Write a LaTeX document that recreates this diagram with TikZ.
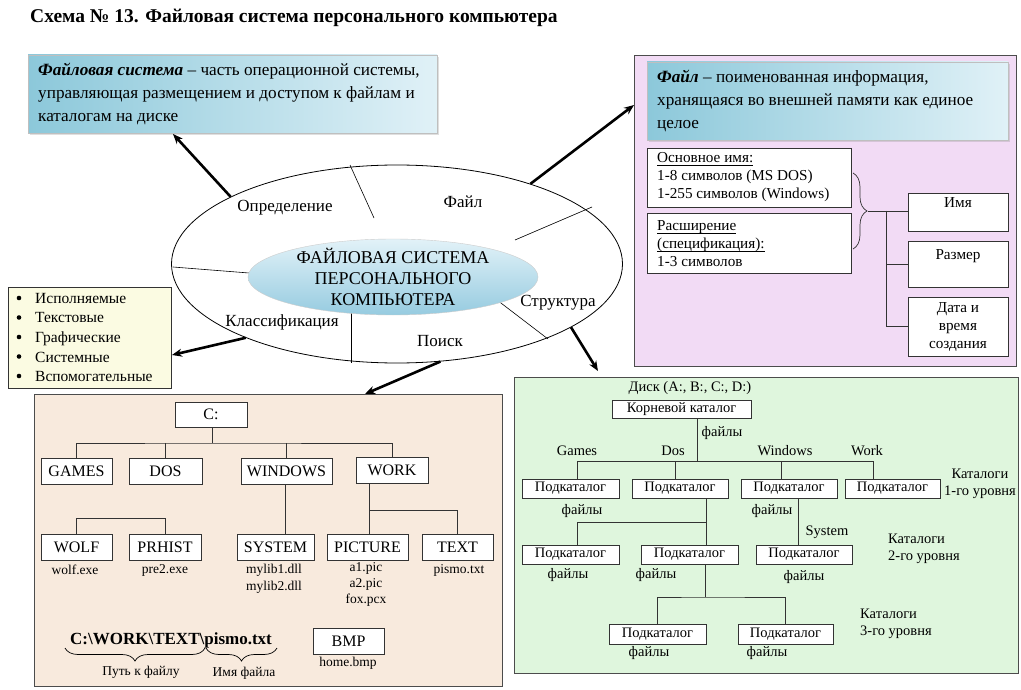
\documentclass[tikz,border=0pt]{standalone}
\usepackage{fontspec}
\setmainfont{Liberation Serif}
\usetikzlibrary{shapes.geometric,arrows.meta,decorations.pathreplacing,shadows}
\definecolor{pinkbg}{RGB}{242,219,245}
\definecolor{peachbg}{RGB}{248,234,221}
\definecolor{greenbg}{RGB}{223,246,221}
\definecolor{yellowbg}{RGB}{251,251,226}
\definecolor{bluedark}{RGB}{140,200,218}
\definecolor{bluelight}{RGB}{224,241,247}
\definecolor{coredark}{RGB}{150,203,224}
\definecolor{corelight}{RGB}{226,242,248}
\newcommand\fTitle{\fontsize{19.5}{22}\selectfont\bfseries}
\newcommand\fDef{\fontsize{17.2}{23}\selectfont}
\newcommand\fMid{\fontsize{15.2}{18}\selectfont}
\newcommand\fRing{\fontsize{17}{20}\selectfont}
\newcommand\fCore{\fontsize{18}{21}\selectfont}
\newcommand\fList{\fontsize{15.5}{19.6}\selectfont}
\newcommand\fTree{\fontsize{16}{19}\selectfont}
\newcommand\fFile{\fontsize{13.5}{16.5}\selectfont}
\newcommand\fGreen{\fontsize{14.5}{17.5}\selectfont}
\newcommand\myul[1]{\begingroup\setbox0\hbox{#1}\rlap{\rule[-2.6pt]{\wd0}{0.6pt}}\box0\endgroup}
\begin{document}
\begin{tikzpicture}[x=1pt,y=-1pt,
  defbox/.style={draw=gray!50, left color=bluedark, right color=bluelight,
    drop shadow={opacity=0.25,shadow xshift=2pt,shadow yshift=-2pt}, inner sep=0pt},
  deftext/.style={anchor=west, align=left, font=\fDef, inner sep=0pt},
  wbox/.style={draw=black!80, fill=white, line width=0.8pt, inner ysep=0pt},
  ring/.style={font=\fRing, inner sep=0pt},
  bigarrow/.style={line width=2.6pt, -{Stealth[length=10pt,width=8pt]}},
  thinline/.style={line width=0.6pt},
  conn/.style={line width=0.8pt, draw=black!80},
  tbox/.style={draw=black!80, fill=white, line width=0.8pt, font=\fTree, inner sep=0pt, minimum height=26pt},
  gbox/.style={draw=black!80, fill=white, line width=0.8pt, font=\fGreen, inner sep=0pt, minimum height=19pt, minimum width=97pt},
  ftext/.style={font=\fFile, inner sep=0pt, align=center},
  gtext/.style={font=\fGreen, inner sep=0pt, align=center},
  mybrace/.style={decorate, decoration={brace, amplitude=#1}, line width=0.7pt}
]
\useasboundingbox (0,0) rectangle (1021,690);
\fill[white] (0,0) rectangle (1021,690);

% title
\node[anchor=west, font=\fTitle, inner sep=0pt] (title) at (30,18) {Схема № 13. Файловая система персонального компьютера};

% background panels
\node[draw=black!70, fill=pinkbg, line width=0.8pt, minimum width=382pt, minimum height=311pt] (pink) at (825,210.5) {};
\node[draw=black!70, fill=peachbg, line width=0.8pt, minimum width=468pt, minimum height=292pt] (peach) at (268,540) {};
\node[draw=black!70, fill=greenbg, line width=0.8pt, minimum width=504pt, minimum height=296pt] (green) at (766,525) {};

% definition boxes
\node[defbox, minimum width=409pt, minimum height=78pt] (def1) at (232.5,94) {};
\node[deftext] (def1text) at (38,94)
 {\textbf{\textit{Файловая система}} – часть операционной системы,\\ управляющая размещением и доступом к файлам и\\ каталогам на диске};
\node[defbox, minimum width=361pt, minimum height=78pt] (def2) at (827.5,101) {};
\node[deftext] (def2text) at (657,101)
 {\textbf{\textit{Файл}} – поименованная информация,\\ хранящаяся во внешней памяти как единое\\ целое};

% file name boxes
\node[wbox, minimum width=204pt, minimum height=59pt] (osn) at (749,177.5) {};
\node[anchor=west, align=left, font=\fMid, inner sep=0pt] (osntext) at (657,177.5)
 {\myul{Основное имя:}\\1-8 символов (MS DOS)\\1-255 символов (Windows)};
\node[wbox, minimum width=204pt, minimum height=60pt] (ras) at (749,243) {};
\node[anchor=west, align=left, font=\fMid, inner sep=0pt] (rastext) at (657,244)
 {\myul{Расширение}\\\myul{(спецификация):}\\1-3 символов};
\node[wbox, anchor=north, minimum width=100pt, text height=12pt, text depth=22pt, inner ysep=2pt, font=\fMid] (imya) at (958,193) {Имя};
\node[wbox, anchor=north, minimum width=100pt, text height=16pt, text depth=26pt, inner ysep=2pt, font=\fMid] (razmer) at (958,241) {Размер};
\node[wbox, minimum width=100pt, minimum height=59pt, align=center, font=\fMid] (data) at (958,326.5) {Дата и\\время\\создания};
\draw[mybrace=14pt, draw=black!80] (853,173) -- (853,249);
\coordinate (btip) at (868,211);
\coordinate (bv) at (886,211);
\draw[conn] (btip) -- (imya.west |- btip);
\draw[conn] (bv) |- (razmer.west);
\draw[conn] (bv) |- (data.west);

% ellipse
\node[ellipse, draw, fill=white, line width=0.8pt, minimum width=451pt, minimum height=198pt, inner sep=0pt] (outer) at (397,264) {};
\draw[thinline] (350,165) -- (374,218);
\draw[thinline] (515,240) -- (592,207);
\draw[thinline] (173,267) -- (249,273);
\draw[thinline] (351,310) -- (351,363);
\draw[thinline] (497,300) -- (548,339);
\node[ellipse, draw=gray!40, top color=corelight, bottom color=coredark, minimum width=290pt, minimum height=76pt, inner sep=0pt] (core) at (393,277) {};
\node[font=\fCore, align=center, inner sep=0pt] (coretext) at (core.center) {ФАЙЛОВАЯ СИСТЕМА\\ПЕРСОНАЛЬНОГО\\КОМПЬЮТЕРА};
\node[ring] (lOpr) at (285,208) {Определение};
\node[ring] (lFile) at (463,202) {Файл};
\node[ring] (lKlass) at (282,322) {Классификация};
\node[ring] (lPoisk) at (440,341) {Поиск};
\node[ring] (lStr) at (558,303) {Структура};

% list box
\node[draw=black!80, fill=yellowbg, line width=0.8pt, anchor=north west, minimum width=163pt, minimum height=101pt] (list) at (8,287) {};
\node[anchor=west, align=left, font=\fList, inner sep=0pt] (listtext) at (35,337.5)
 {Исполняемые\\Текстовые\\Графические\\Системные\\Вспомогательные};
\foreach \yy in {298,317.5,337,356.5,376} \fill (19,\yy) circle (2.3pt);

% arrows
\coordinate (t1) at (173,134);
\coordinate (t2) at (634,105);
\coordinate (t3) at (172,355);
\coordinate (t4) at (365,394);
\coordinate (t5) at (598,371);
\draw[bigarrow] (outer.158) -- (t1);
\draw[bigarrow] (outer.31) -- (t2);
\draw[bigarrow] (outer.206) -- (t3);
\draw[bigarrow] (outer.294) -- (t4);
\draw[bigarrow] (outer.340) -- (t5);

% bottom-left tree
\node[tbox, minimum width=72pt, minimum height=25pt] (nC) at (211,414.5) {C:};
\node[tbox, minimum width=71pt] (nGames) at (76.5,471) {GAMES};
\node[tbox, minimum width=73pt] (nDos) at (165.5,471) {DOS};
\node[tbox, minimum width=91pt] (nWin) at (286.5,471) {WINDOWS};
\node[tbox, minimum width=72pt] (nWork) at (392,470) {WORK};
\node[tbox, minimum width=71pt] (nWolf) at (76.5,547) {WOLF};
\node[tbox, minimum width=72pt] (nPrh) at (165,547) {PRHIST};
\node[tbox, minimum width=77pt] (nSys) at (275.5,547) {SYSTEM};
\node[tbox, minimum width=81pt] (nPic) at (367.5,547) {PICTURE};
\node[tbox, minimum width=71pt] (nText) at (457.5,547) {TEXT};
\node[tbox, minimum width=71pt] (nBmp) at (348.5,641) {BMP};
\coordinate (b1) at (212,443);
\draw[conn] (nC.south -| b1) -- (b1);
\draw[conn] (nGames.north) |- (b1) -| (nWork.north);
\draw[conn] (nDos.north) -- (nDos.north |- b1);
\draw[conn] (nWin.north) -- (nWin.north |- b1);
\coordinate (b2) at (77,518);
\draw[conn] (nWolf.north) -- (nWolf.north |- b2) -| (nPrh.north);
\coordinate (bw) at (285,500);
\draw[conn] (nWin.south -| bw) -- (nSys.north -| bw);
\coordinate (b3) at (369,510);
\draw[conn] (nWork.south -| b3) -- (nPic.north -| b3);
\draw[conn] (b3) -| (nText.north);
\node[ftext] (fWolf) at (75,570) {wolf.exe};
\node[ftext] (fPrh) at (165,570) {pre2.exe};
\node[ftext, font=\fontsize{13.5}{17}\selectfont] (fSys) at (274,578.5) {mylib1.dll\\mylib2.dll};
\node[ftext, font=\fontsize{13.5}{16}\selectfont] (fPic) at (366,584) {a1.pic\\a2.pic\\fox.pcx};
\node[ftext] (fText) at (459,570) {pismo.txt};
\node[ftext] (fBmp) at (348,663) {home.bmp};
\node[anchor=west, inner sep=0pt, font=\fontsize{17}{20}\selectfont\bfseries] (path) at (70,640) {C:\textbackslash WORK\textbackslash TEXT\textbackslash pismo.txt};
\draw[mybrace=13pt] (205,648) -- (65,648);
\draw[mybrace=13pt] (277,648) -- (206,648);
\node[ftext] (lPath) at (141,672) {Путь к файлу};
\node[ftext] (lName) at (244,673) {Имя файла};

% green tree
\node[gbox, minimum width=139pt, minimum height=18pt] (root) at (681.5,409) {Корневой каталог};
\node[gbox] (g1a) at (570.5,488.5) {Подкаталог};
\node[gbox, minimum width=96pt] (g1b) at (680,488.5) {Подкаталог};
\node[gbox, minimum width=96pt] (g1c) at (789,488.5) {Подкаталог};
\node[gbox, minimum width=95pt] (g1d) at (892.5,488.5) {Подкаталог};
\node[gbox] (g2a) at (570.5,554.5) {Подкаталог};
\node[gbox] (g2b) at (689.5,554.5) {Подкаталог};
\node[gbox, minimum width=96pt] (g2c) at (804,554.5) {Подкаталог};
\node[gbox, minimum height=20pt] (g3a) at (657.5,634) {Подкаталог};
\node[gbox, minimum width=95pt, minimum height=20pt] (g3b) at (785.5,634) {Подкаталог};
\coordinate (gr) at (697,461);
\coordinate (ga) at (577,461);
\coordinate (gb) at (675,461);
\coordinate (gc) at (781,461);
\coordinate (gd) at (873,461);
\draw[conn] (root.south -| gr) -- (gr);
\draw[conn] (ga) -- (gd);
\draw[conn] (ga) -- (ga |- g1a.north);
\draw[conn] (gb) -- (gb |- g1b.north);
\draw[conn] (gc) -- (gc |- g1c.north);
\draw[conn] (gd) -- (gd |- g1d.north);
\coordinate (gbx) at (706,522);
\draw[conn] (g1b.south -| gbx) -- (g2b.north -| gbx);
\draw[conn] (gbx) -| (ga |- g2a.north);
\coordinate (gcx) at (798,520);
\draw[conn] (g1c.south -| gcx) -- (g2c.north -| gcx);
\coordinate (g3bar) at (705,597);
\draw[conn] (g2b.south -| g3bar) -- (g3bar);
\draw[conn] (g3a.north) |- (g3bar) -| (g3b.north);
\node[gtext] (disk) at (690,388) {Диск (A:, B:, C:, D:)};
\node[gtext] (fr) at (722,433) {файлы};
\node[gtext] (nmG) at (577,451) {Games};
\node[gtext] (nmD) at (673,451) {Dos};
\node[gtext] (nmW) at (785,451) {Windows};
\node[gtext] (nmK) at (867,451) {Work};
\node[gtext] (nmS) at (827,532) {System};
\node[gtext] (f1a) at (582,511) {файлы};
\node[gtext] (f1c) at (772,511) {файлы};
\node[gtext] (f2a) at (568,575) {файлы};
\node[gtext] (f2b) at (656,575) {файлы};
\node[gtext] (f2c) at (804,577) {файлы};
\node[gtext] (f3a) at (649,653) {файлы};
\node[gtext] (f3b) at (767,653) {файлы};
\node[gtext] (lev1) at (980,484) {Каталоги\\1-го уровня};
\node[gtext, anchor=west, align=left] (lev2) at (888,549) {Каталоги\\2-го уровня};
\node[gtext, anchor=west, align=left] (lev3) at (860,624) {Каталоги\\3-го уровня};
\end{tikzpicture}
\end{document}
